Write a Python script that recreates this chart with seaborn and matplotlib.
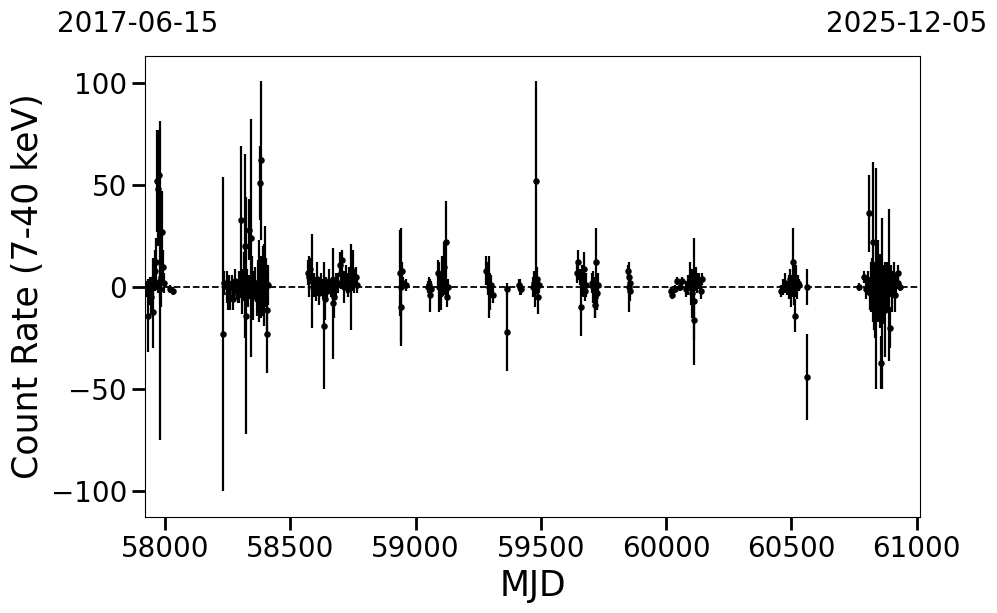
import numpy as np
import pandas as pd
import matplotlib
matplotlib.use("Agg")
import matplotlib.pyplot as plt
import seaborn as sns

# ---------------------------
# Light curve values
# ---------------------------
mjd = [
    # 2017 cluster
    57925, 57930, 57935, 57940, 57945, 57950, 57953, 57958, 57962, 57965,
    57968, 57970, 57972, 57976, 57978, 57980, 57984, 57988, 57992, 57996,
    58020, 58030,
    # 2018 cluster
    58232, 58234, 58245, 58251, 58256, 58260, 58265, 58270, 58275, 58280,
    58285, 58290, 58295, 58300, 58303, 58308, 58312, 58316, 58319, 58321,
    58325, 58330, 58335, 58338, 58343, 58348, 58352, 58360, 58365, 58370,
    58374, 58378, 58381, 58384, 58388, 58392, 58396, 58400, 58403, 58405,
    58408, 58410,
    # 2019 cluster
    58570, 58575, 58580, 58585, 58590, 58595, 58600, 58605, 58610, 58615,
    58620, 58625, 58630, 58634, 58636, 58640, 58645, 58650, 58655, 58660,
    58665, 58670, 58672, 58680, 58690, 58697, 58700, 58705, 58710, 58715,
    58720, 58725, 58730, 58735, 58740, 58745, 58750, 58755, 58760, 58765,
    # 2020
    58938, 58940, 58943, 58945, 58948, 58962,
    59050, 59054, 59058, 59062, 59088, 59095, 59100, 59105, 59110, 59115,
    59118, 59122, 59126, 59130,
    59282, 59287, 59292, 59297, 59302, 59307,
    59363, 59366, 59414, 59417, 59420,
    59470, 59474, 59478, 59481, 59484, 59488, 59492,
    # 2022
    59645, 59650, 59655, 59660, 59664, 59668, 59673, 59678, 59682,
    59705, 59710, 59715, 59718, 59722, 59725, 59728,
    59848, 59850, 59852, 59854, 59856,
    60018, 60025, 60035, 60045, 60055, 60064,
    60080, 60088, 60095, 60100, 60105, 60110, 60112, 60118, 60125, 60132,
    60140, 60145,
    # 2024
    60460, 60468, 60475, 60482, 60490, 60495, 60500, 60505, 60510, 60514,
    60518, 60522, 60526, 60530, 60563, 60563,
    # 2025
    60769, 60789, 60800, 60805, 60809, 60813, 60817, 60821, 60825, 60829,
    60833, 60836, 60839, 60843, 60847, 60851, 60855, 60859, 60862, 60866,
    60870, 60873, 60877, 60881, 60885, 60889, 60893, 60897, 60901, 60905,
    60910, 60915, 60920, 60925, 60928, 60935,
]
rate = [
    -1, -14, -3, 1, -5, -12, 4, 8, 12, 2,
    52, 0, 48, 55, -1, 3, 5, 27, 10, 2,
    -1, -2,
    -23, 2, 0, -3, 1, -5, 2, -6, -2, 3,
    -1, -4, 0, 2, 33, -3, 1, 5, 20, -14,
    3, -2, 28, 0, 24, 5, -4, 2, -6, 1,
    3, 51, 0, 62, -2, 5, 1, 10, 2, -11,
    -23, 1,
    7, 5, 9, 3, 0, 1, -2, 4, 0, -3,
    2, 0, -1, -19, -6, 1, -2, 0, 3, -1,
    0, -8, -5, 1, 2, 11, 7, 13, 3, 0,
    5, 2, -1, 4, 0, 7, 8, 3, 5, 1,
    7, -10, 0, 8, 2, 1,
    0, 1, -4, -1, 7, 0, -3, 5, 2, 10,
    1, 22, -5, 0,
    8, 4, 0, -2, 1, -4,
    -22, -1, 1, 0, -1,
    0, 2, -2, 52, 4, -5, 1,
    7, 12, 5, -10, 3, 0, 9, -2, 1,
    2, 0, -5, -9, 12, -3, 1,
    8, 5, 0, -2, 2,
    -2, -4, -1, 3, 0, 3,
    -1, 1, 5, 0, -3, -7, -16, 4, 2, 3,
    -2, 4,
    -2, 0, 2, -1, 0, 4, -2, 12, 1, -14,
    3, 0, 2, 1, 0, -44,
    0, 5, -1, 2, 36, -3, 0, 4, 22, -6,
    2, -12, 4, -1, 3, 0, -2, -37, -8, 1,
    -4, -11, 2, 0, 5, 1, -20, 3, -2, 0,
    6, -4, 1, 7, 2, 0,
]
err = [
    4, 18, 6, 4, 8, 18, 10, 10, 12, 3,
    25, 3, 28, 22, 4, 78, 15, 20, 8, 5,
    2, 2,
    77, 6, 8, 8, 5, 6, 4, 5, 4, 6,
    5, 4, 8, 6, 36, 10, 8, 12, 45, 58,
    6, 8, 15, 6, 58, 10, 12, 8, 8, 12,
    20, 18, 15, 39, 12, 15, 20, 20, 12, 12,
    19, 10,
    6, 10, 5, 23, 4, 6, 5, 8, 4, 6,
    5, 3, 5, 31, 10, 4, 5, 3, 6, 4,
    5, 27, 10, 6, 5, 6, 8, 5, 4, 8,
    6, 5, 4, 6, 21, 8, 10, 6, 5, 4,
    21, 17, 29, 4, 3, 3,
    3, 4, 8, 4, 6, 12, 8, 10, 6, 12,
    5, 20, 5, 4,
    7, 8, 15, 9, 5, 4,
    19, 3, 3, 4, 3,
    5, 6, 8, 49, 6, 8, 4,
    5, 6, 4, 14, 8, 5, 8, 5, 6,
    5, 8, 10, 6, 17, 8, 6,
    3, 4, 12, 5, 4,
    2, 2, 2, 2, 2, 2,
    4, 5, 7, 9, 12, 31, 10, 6, 5, 4,
    4, 3,
    3, 4, 5, 3, 6, 5, 8, 17, 10, 8,
    8, 6, 4, 3, 9, 21,
    2, 3, 5, 6, 19, 8, 12, 10, 39, 15,
    10, 13, 54, 12, 20, 8, 18, 13, 42, 10,
    14, 23, 8, 12, 6, 37, 10, 8, 10, 5,
    6, 8, 5, 4, 3, 2,
]

df = pd.DataFrame({"MJD": mjd, "rate": rate, "err": err})

# ---------------------------
# Plot
# ---------------------------
sns.set_theme(style="ticks", rc={
    "text.color": "black",
    "axes.labelcolor": "black",
    "axes.edgecolor": "black",
    "xtick.color": "black",
    "ytick.color": "black",
})
plt.rcParams["font.family"] = ["DejaVu Sans"]

fig, ax = plt.subplots(figsize=(9.97, 6.13), dpi=100)
fig.subplots_adjust(left=0.1454, right=0.9228, top=0.9086, bottom=0.1566)

ax.axhline(0, color="black", ls="--", lw=1.3, zorder=1)
ax.errorbar(df["MJD"], df["rate"], yerr=df["err"], fmt="none",
            ecolor="black", elinewidth=1.6, capsize=0, zorder=2)
sns.scatterplot(data=df, x="MJD", y="rate", color="black", s=22,
                edgecolor="black", linewidth=0, ax=ax, zorder=3)

ax.set_xlim(57919, 61014)
ax.set_ylim(-112.5, 113)
ax.set_xticks([58000, 58500, 59000, 59500, 60000, 60500, 61000])
ax.set_yticks([-100, -50, 0, 50, 100])
ax.set_xlabel("MJD", fontsize=25)
ax.set_ylabel("Count Rate (7-40 keV)", fontsize=25)
ax.tick_params(labelsize=20, length=9.5, width=2, color="black")
for sp in ax.spines.values():
    sp.set_linewidth(0.8)

fig.text(57 / 997, 1 - 10 / 613, "2017-06-15", fontsize=20, ha="left", va="top")
fig.text(987 / 997, 1 - 10 / 613, "2025-12-05", fontsize=20, ha="right", va="top")

fig.savefig("out.png", dpi=100)
